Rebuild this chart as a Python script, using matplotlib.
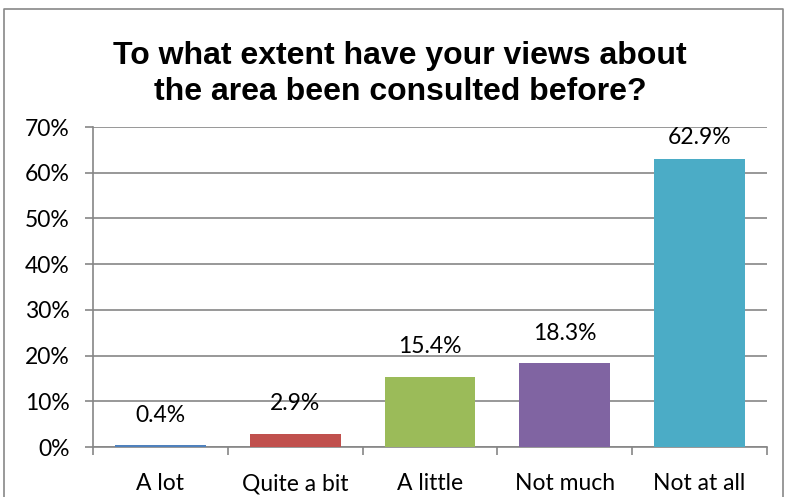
import matplotlib
matplotlib.use('Agg')
import matplotlib.pyplot as plt
from matplotlib.lines import Line2D
import numpy as np

categories = ['A lot', 'Quite a bit', 'A little', 'Not much', 'Not at all']
values = [0.4, 2.9, 15.4, 18.3, 62.9]
colors = ['#4F81BD', '#C0504D', '#9BBB59', '#8064A2', '#4BACC6']
title_lines = ['To what extent have your views about',
               'the area been consulted before?']

W, H = 787, 497
fig = plt.figure(figsize=(W / 100, H / 100), dpi=100)
ax = fig.add_axes([93 / W, 1 - 447 / H, (767 - 93) / W, (447 - 127) / H])

grid_col = '#868686'
lab_size = 16.5
x = np.arange(len(categories))
ax.bar(x, values, width=0.675, color=colors, zorder=3)

ax.set_xlim(-0.5, len(categories) - 0.5)
ax.set_ylim(0, 70)
ax.set_yticks(range(0, 71, 10))
ax.set_yticklabels(['%d%%' % t for t in range(0, 71, 10)])
ax.yaxis.grid(True, color=grid_col, linewidth=1.2, zorder=0)
ax.tick_params(axis='y', length=6, width=1.2, color=grid_col, pad=11,
               labelsize=lab_size)

# category labels sit between the boundary ticks
ax.set_xticks(x)
ax.set_xticklabels(categories)
ax.tick_params(axis='x', length=0, pad=19, labelsize=lab_size)
ax.set_xticks(np.arange(-0.5, len(categories)), minor=True)
ax.tick_params(axis='x', which='minor', length=6, width=1.2, color=grid_col)

for s in ['top', 'right']:
    ax.spines[s].set_visible(False)
for s in ['left', 'bottom']:
    ax.spines[s].set_color(grid_col)
    ax.spines[s].set_linewidth(1.2)

for lab in ax.get_xticklabels() + ax.get_yticklabels():
    lab.set_fontfamily('Lato')

# value labels above each bar, kept inside the plot area
for xi, v in zip(x, values):
    ax.text(xi, min(v + 6.6, 67.8), '%.1f%%' % v, ha='center', va='center',
            fontsize=lab_size, family='Lato', zorder=4)

for i, line in enumerate(title_lines):
    fig.text(400 / W, 1 - (64 + 36 * i) / H, line, ha='center', va='baseline',
             fontsize=23, fontweight='bold', family='Liberation Sans')

# chart border (open at the bottom edge)
fig.add_artist(Line2D([4 / W, 4 / W, 783 / W, 783 / W],
                      [0, 1 - 9 / H, 1 - 9 / H, 0],
                      transform=fig.transFigure, color='#888888', lw=1.2))

fig.savefig('out.png', dpi=100)
